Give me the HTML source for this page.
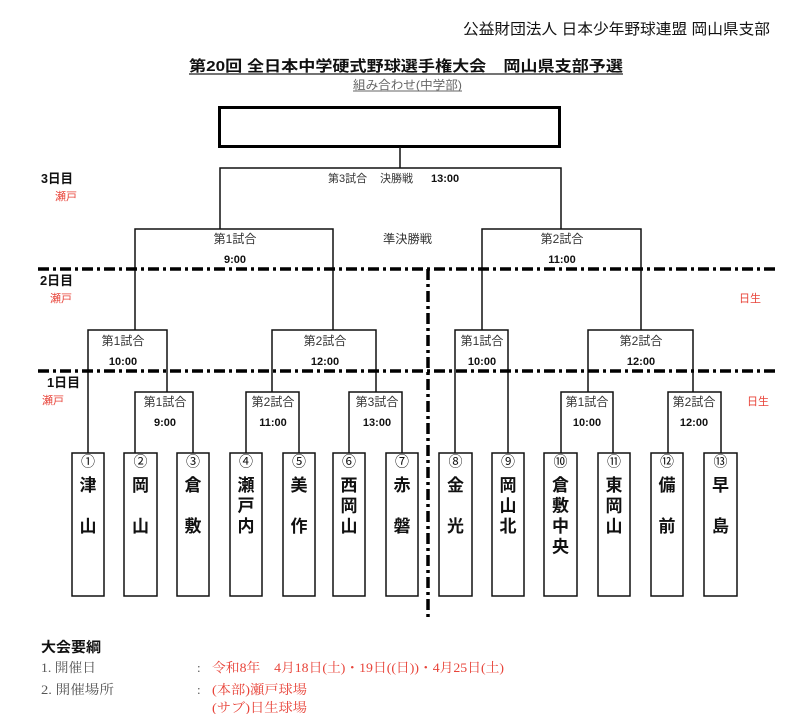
<!DOCTYPE html>
<html><head><meta charset="utf-8">
<style>
html,body{margin:0;padding:0;background:#fff;}
svg{display:block;}
text{font-family:"Liberation Sans","Noto Sans CJK JP",sans-serif;}
.serif{font-family:"Liberation Serif","Noto Serif CJK SC",serif;}
</style></head>
<body>
<svg width="800" height="714" viewBox="0 0 800 714" xmlns="http://www.w3.org/2000/svg">
<!-- header -->
<text x="463" y="34" font-size="15" fill="#111" textLength="307" lengthAdjust="spacingAndGlyphs">公益財団法人 日本少年野球連盟 岡山県支部</text>
<text x="189" y="71" font-size="15" font-weight="bold" fill="#111" textLength="434" lengthAdjust="spacingAndGlyphs">第20回 全日本中学硬式野球選手権大会　岡山県支部予選</text>
<line x1="189" y1="74" x2="623" y2="74" stroke="#222" stroke-width="1.2"/>
<text x="353" y="89" font-size="12" fill="#666" textLength="109" lengthAdjust="spacingAndGlyphs">組み合わせ(中学部)</text>
<line x1="353" y1="91" x2="462" y2="91" stroke="#666" stroke-width="1"/>

<!-- champion box -->
<rect x="219.5" y="107.5" width="340" height="39" fill="none" stroke="#000" stroke-width="3"/>

<!-- brackets -->
<g fill="none" stroke="#111" stroke-width="1.5">
<line x1="400" y1="147" x2="400" y2="168"/>
<path d="M220 229 V168 H561 V229"/>
<path d="M135 330 V229 H333 V330"/>
<path d="M482 330 V229 H641 V330"/>
<path d="M88 453 V330 H167 V392"/>
<path d="M272 392 V330 H376 V392"/>
<path d="M455 453 V330 H508 V453"/>
<path d="M588 392 V330 H693 V392"/>
<path d="M135 453 V392 H193 V453"/>
<path d="M246 453 V392 H299 V453"/>
<path d="M349 453 V392 H402 V453"/>
<path d="M561 453 V392 H613 V453"/>
<path d="M668 453 V392 H721 V453"/>
</g>

<!-- dash-dot lines -->
<g fill="none" stroke="#000" stroke-width="3.5" stroke-dasharray="11 4 3 4">
<line x1="38" y1="269" x2="775" y2="269"/>
<line x1="38" y1="371" x2="775" y2="371"/>
<line x1="428" y1="269" x2="428" y2="617"/>
</g>

<!-- day labels -->
<g font-weight="bold" font-size="13" fill="#111">
<text x="41" y="183" textLength="32" lengthAdjust="spacingAndGlyphs">3日目</text>
<text x="40" y="285" textLength="33" lengthAdjust="spacingAndGlyphs">2日目</text>
<text x="47" y="387" textLength="33" lengthAdjust="spacingAndGlyphs">1日目</text>
</g>
<g font-size="11" fill="#e8443a">
<text x="55" y="200">瀬戸</text>
<text x="50" y="302">瀬戸</text>
<text x="42" y="404">瀬戸</text>
<text x="739" y="302">日生</text>
<text x="747" y="405">日生</text>
</g>

<!-- match labels -->
<g font-size="11" fill="#333">
<text x="328" y="182">第3試合</text>
<text x="380" y="182">決勝戦</text>
<text x="431" y="182" font-weight="bold" fill="#111">13:00</text>
<text x="383" y="243" font-size="12" textLength="49" lengthAdjust="spacingAndGlyphs">準決勝戦</text>
</g>
<g font-size="12" fill="#333" text-anchor="middle">
<text x="235" y="243">第1試合</text>
<text x="562" y="243">第2試合</text>
<text x="123" y="345">第1試合</text>
<text x="325" y="345">第2試合</text>
<text x="482" y="345">第1試合</text>
<text x="641" y="345">第2試合</text>
<text x="165" y="406">第1試合</text>
<text x="273" y="406">第2試合</text>
<text x="377" y="406">第3試合</text>
<text x="587" y="406">第1試合</text>
<text x="694" y="406">第2試合</text>
</g>
<g font-size="11" font-weight="bold" fill="#111" text-anchor="middle">
<text x="235" y="263">9:00</text>
<text x="562" y="263">11:00</text>
<text x="123" y="365">10:00</text>
<text x="325" y="365">12:00</text>
<text x="482" y="365">10:00</text>
<text x="641" y="365">12:00</text>
<text x="165" y="426">9:00</text>
<text x="273" y="426">11:00</text>
<text x="377" y="426">13:00</text>
<text x="587" y="426">10:00</text>
<text x="694" y="426">12:00</text>
</g>

<!-- team boxes -->
<g fill="none" stroke="#111" stroke-width="1.5">
<rect x="72" y="453" width="32" height="143"/>
<rect x="124" y="453" width="33" height="143"/>
<rect x="177" y="453" width="32" height="143"/>
<rect x="230" y="453" width="32" height="143"/>
<rect x="283" y="453" width="32" height="143"/>
<rect x="333" y="453" width="32" height="143"/>
<rect x="386" y="453" width="32" height="143"/>
<rect x="439" y="453" width="33" height="143"/>
<rect x="492" y="453" width="32" height="143"/>
<rect x="544" y="453" width="33" height="143"/>
<rect x="598" y="453" width="32" height="143"/>
<rect x="651" y="453" width="32" height="143"/>
<rect x="704" y="453" width="33" height="143"/>
</g>
<g font-size="14" fill="#111" text-anchor="middle">
<text x="88" y="466.5">①</text>
<text x="140.5" y="466.5">②</text>
<text x="193" y="466.5">③</text>
<text x="246" y="466.5">④</text>
<text x="299" y="466.5">⑤</text>
<text x="349" y="466.5">⑥</text>
<text x="402" y="466.5">⑦</text>
<text x="455.5" y="466.5">⑧</text>
<text x="508" y="466.5">⑨</text>
<text x="560.5" y="466.5">⑩</text>
<text x="614" y="466.5">⑪</text>
<text x="667" y="466.5">⑫</text>
<text x="720.5" y="466.5">⑬</text>
</g>
<g font-size="17" font-weight="bold" fill="#111" text-anchor="middle">
<text x="88" y="491">津</text><text x="88" y="532">山</text>
<text x="140.5" y="491">岡</text><text x="140.5" y="532">山</text>
<text x="193" y="491">倉</text><text x="193" y="532">敷</text>
<text x="246" y="491">瀬</text><text x="246" y="511.5">戸</text><text x="246" y="532">内</text>
<text x="299" y="491">美</text><text x="299" y="532">作</text>
<text x="349" y="491">西</text><text x="349" y="511.5">岡</text><text x="349" y="532">山</text>
<text x="402" y="491">赤</text><text x="402" y="532">磐</text>
<text x="455.5" y="491">金</text><text x="455.5" y="532">光</text>
<text x="508" y="491">岡</text><text x="508" y="511.5">山</text><text x="508" y="532">北</text>
<text x="560.5" y="491">倉</text><text x="560.5" y="511.5">敷</text><text x="560.5" y="532">中</text><text x="560.5" y="552.5">央</text>
<text x="614" y="491">東</text><text x="614" y="511.5">岡</text><text x="614" y="532">山</text>
<text x="667" y="491">備</text><text x="667" y="532">前</text>
<text x="720.5" y="491">早</text><text x="720.5" y="532">島</text>
</g>

<!-- bottom summary -->
<text x="41" y="652" font-size="14" font-weight="bold" fill="#111" textLength="60" lengthAdjust="spacingAndGlyphs">大会要綱</text>
<g font-size="13" fill="#555" class="serif">
<text class="serif" x="41" y="672" textLength="55" lengthAdjust="spacingAndGlyphs">1. 開催日</text>
<text class="serif" x="41" y="694" textLength="73" lengthAdjust="spacingAndGlyphs">2. 開催場所</text>
<text class="serif" x="197" y="672">:</text>
<text class="serif" x="197" y="694">:</text>
</g>
<g font-size="13" fill="#e8443a">
<text class="serif" x="212" y="672" textLength="292" lengthAdjust="spacingAndGlyphs">令和8年　4月18日(土)・19日((日))・4月25日(土)</text>
<text class="serif" x="212" y="694" textLength="95" lengthAdjust="spacingAndGlyphs">(本部)瀬戸球場</text>
<text class="serif" x="212" y="712" textLength="95" lengthAdjust="spacingAndGlyphs">(サブ)日生球場</text>
</g>
</svg>
</body></html>
